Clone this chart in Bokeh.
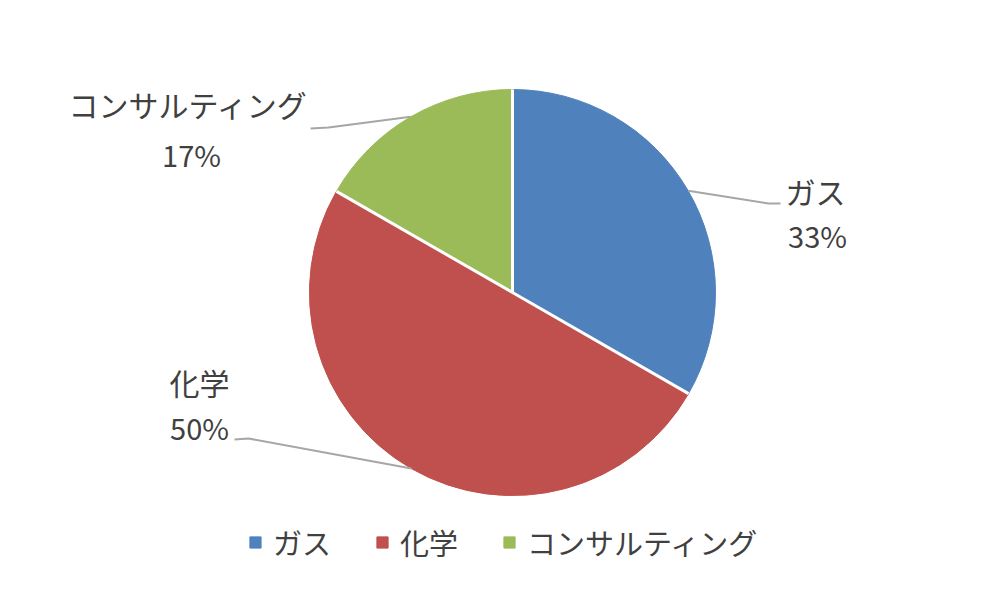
import math
from bokeh.plotting import figure
from bokeh.models import Range1d, Legend, LegendItem, ColumnDataSource
from bokeh.core.properties import value
from bokeh.embed import file_html
from bokeh.resources import INLINE

# ---- data ----
categories = ["ガス", "化学", "コンサルティング"]
shares = [33.3, 50.0, 16.7]
colors = ["#4F81BD", "#C0504D", "#9BBB59"]

# ---- layout (pixels, plot coords with origin at bottom-left) ----
W, H = 990, 582
CX, CY, R = 512, 290, 203
FONT = "Noto Sans CJK JP"
TXT = "#404040"
# per slice: elbow point, leader end, label name center, label pct center
elbow = [(768, 379), (248, 144), (328, 455)]
lend = [(780, 379), (234, 143), (310, 454)]
name_pos = [(815, 392), (199, 201), (188, 479)]
pct_pos = [(817, 348), (199, 156), (191, 429)]

p = figure(width=W, height=H, output_backend="svg", toolbar_location=None,
           x_range=Range1d(0, W), y_range=Range1d(0, H), min_border=0)
p.axis.visible = False
p.grid.visible = False
p.outline_line_color = None
p.background_fill_color = "white"

total = sum(shares)
starts, ends, mids, bounds = [], [], [], []
c = 0.0
for s in shares:
    c0, c1 = c / total, (c + s) / total
    a0 = math.pi / 2 - 2 * math.pi * c0
    a1 = math.pi / 2 - 2 * math.pi * c1
    starts.append(a1)
    ends.append(a0)
    mids.append((a0 + a1) / 2)
    bounds.append(a0)
    c += s

src = ColumnDataSource(dict(start=starts, end=ends, color=colors, cat=categories))
wr = p.wedge(x=CX, y=CY, radius=R, start_angle="start", end_angle="end", source=src,
             fill_color="color", line_color="color", line_width=1)

# white separators between slices
p.segment(x0=[CX] * len(bounds), y0=[CY] * len(bounds),
          x1=[CX + R * math.cos(b) for b in bounds],
          y1=[CY + R * math.sin(b) for b in bounds],
          line_color="white", line_width=3)

for i, (cat, s) in enumerate(zip(categories, shares)):
    ex = CX + R * math.cos(mids[i])
    ey = CY + R * math.sin(mids[i])
    p.line([ex, elbow[i][0], lend[i][0]], [ey, elbow[i][1], lend[i][1]],
           line_color="#A6A6A6", line_width=2)
    pct = f"{round(s / total * 100)}%"
    p.text(x=[name_pos[i][0]], y=[name_pos[i][1]], text=[cat], text_align="center",
           text_baseline="middle", text_font=value(FONT), text_font_size="30px",
           text_color=TXT)
    p.text(x=[pct_pos[i][0]], y=[pct_pos[i][1]], text=[pct], text_align="center",
           text_baseline="middle", text_font=value(FONT), text_font_size="29px",
           text_color=TXT)

items = [LegendItem(label=cat, renderers=[wr], index=i) for i, cat in enumerate(categories)]

legend = Legend(items=items, orientation="horizontal", location=(248, 19),
                glyph_width=14, glyph_height=14, label_standoff=11, spacing=44,
                label_text_font=FONT, label_text_font_size="29px",
                label_text_color=TXT, border_line_color=None,
                background_fill_alpha=0, padding=0, margin=0)
p.add_layout(legend, "center")

open("out.html", "w").write(file_html(p, INLINE))
